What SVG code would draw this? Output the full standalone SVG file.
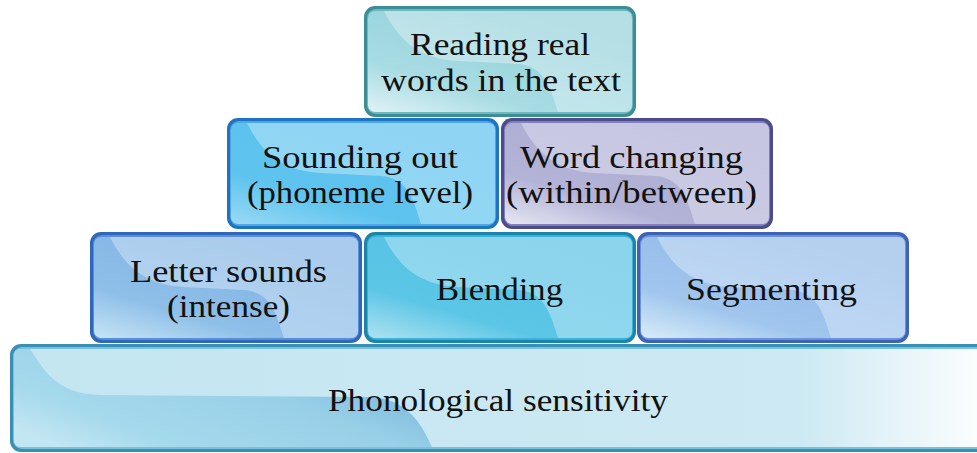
<svg xmlns="http://www.w3.org/2000/svg" xmlns:xlink="http://www.w3.org/1999/xlink" width="977" height="453" viewBox="0 0 977 453">
<defs>
<style>
.t{font-family:"Liberation Serif","Times New Roman",serif;font-size:32px;fill:#111;}
.gl{fill:#fff;fill-opacity:.32}
</style>
<linearGradient id="gTeal" x1="0" y1="1" x2="0.7" y2="0.1"><stop offset="0" stop-color="#e0f2f6"/><stop offset=".35" stop-color="#a8dce3"/><stop offset="1" stop-color="#92d0d9"/></linearGradient>
<linearGradient id="gSky" x1="0" y1="1" x2="0.7" y2="0.1"><stop offset="0" stop-color="#9ad9f4"/><stop offset=".35" stop-color="#5ec4ee"/><stop offset="1" stop-color="#5bc2ee"/></linearGradient>
<linearGradient id="gLav" x1="0" y1="1" x2="0.7" y2="0.1"><stop offset="0" stop-color="#e6e6f3"/><stop offset=".35" stop-color="#b3b3d7"/><stop offset="1" stop-color="#acacd3"/></linearGradient>
<linearGradient id="gMid" x1="0" y1="1" x2="0.7" y2="0.1"><stop offset="0" stop-color="#c6e4f5"/><stop offset=".35" stop-color="#8ebfe9"/><stop offset="1" stop-color="#82b3e3"/></linearGradient>
<linearGradient id="gCyan" x1="0" y1="1" x2="0.7" y2="0.1"><stop offset="0" stop-color="#ade2f1"/><stop offset=".35" stop-color="#5cc6e6"/><stop offset="1" stop-color="#55c0e4"/></linearGradient>
<linearGradient id="gPeri" x1="0" y1="1" x2="0.7" y2="0.1"><stop offset="0" stop-color="#d7ecf8"/><stop offset=".35" stop-color="#a0c6ee"/><stop offset="1" stop-color="#92bae8"/></linearGradient>
<linearGradient id="gBase" x1="0" y1="0" x2="1" y2="0"><stop offset="0" stop-color="#c3e6f1"/><stop offset=".8" stop-color="#cde9f3"/><stop offset="1" stop-color="#ffffff"/></linearGradient>
<linearGradient id="gLow" x1="0" y1="0.8" x2="1" y2="0.2"><stop offset="0" stop-color="#c2e6f2"/><stop offset=".2" stop-color="#a5d9ec"/><stop offset=".6" stop-color="#98d0e8"/><stop offset="1" stop-color="#6eadd3"/></linearGradient>
<path id="gloss" d="M16,0 C30,28 50,48 90,50 L150,53 C176,55 182,75 190,101 L257,101 Q264,101 264,95 L264,6 Q264,0 257,0 Z"/>
</defs>

<g id="node-reading">
<rect x="364" y="6" width="272" height="111" rx="11" fill="#3d8d96"/>
<rect x="367" y="9" width="266" height="105" rx="9" fill="#6fb8c0"/>
<rect x="368" y="11" width="264" height="101" rx="7" fill="url(#gTeal)"/>
<use xlink:href="#gloss" class="gl" transform="translate(368,11)"/>
<text class="t" x="410" y="55" textLength="180" lengthAdjust="spacingAndGlyphs">Reading real</text>
<text class="t" x="381" y="91" textLength="240" lengthAdjust="spacingAndGlyphs">words in the text</text>
</g>

<g id="node-sounding">
<rect x="227" y="118" width="272" height="111" rx="11" fill="#1d74c2"/>
<rect x="230" y="121" width="266" height="105" rx="9" fill="#4fa7e2"/>
<rect x="231" y="123" width="264" height="101" rx="7" fill="url(#gSky)"/>
<use xlink:href="#gloss" class="gl" transform="translate(231,123)"/>
<text class="t" x="262" y="168" textLength="196" lengthAdjust="spacingAndGlyphs">Sounding out</text>
<text class="t" x="247" y="203" textLength="226" lengthAdjust="spacingAndGlyphs">(phoneme level)</text>
</g>

<g id="node-word">
<rect x="501" y="118" width="272" height="111" rx="11" fill="#4c4c8c"/>
<rect x="504" y="121" width="266" height="105" rx="9" fill="#8080bb"/>
<rect x="505" y="123" width="264" height="101" rx="7" fill="url(#gLav)"/>
<use xlink:href="#gloss" class="gl" transform="translate(505,123)"/>
<text class="t" x="520" y="168" textLength="223" lengthAdjust="spacingAndGlyphs">Word changing</text>
<text class="t" x="506" y="203" textLength="251" lengthAdjust="spacingAndGlyphs">(within/between)</text>
</g>

<g id="node-letter">
<rect x="90" y="232" width="272" height="111" rx="11" fill="#2e67bb"/>
<rect x="93" y="235" width="266" height="105" rx="9" fill="#5a8fd6"/>
<rect x="94" y="237" width="264" height="101" rx="7" fill="url(#gMid)"/>
<use xlink:href="#gloss" class="gl" transform="translate(94,237)"/>
<text class="t" x="130" y="282" textLength="197" lengthAdjust="spacingAndGlyphs">Letter sounds</text>
<text class="t" x="167" y="317" textLength="123" lengthAdjust="spacingAndGlyphs">(intense)</text>
</g>

<g id="node-blending">
<rect x="364" y="232" width="272" height="111" rx="11" fill="#1985ab"/>
<rect x="367" y="235" width="266" height="105" rx="9" fill="#3fb0d6"/>
<rect x="368" y="237" width="264" height="101" rx="7" fill="url(#gCyan)"/>
<use xlink:href="#gloss" class="gl" transform="translate(368,237)"/>
<text class="t" x="436" y="300" textLength="127" lengthAdjust="spacingAndGlyphs">Blending</text>
</g>

<g id="node-segmenting">
<rect x="637" y="232" width="272" height="111" rx="11" fill="#3c63b6"/>
<rect x="640" y="235" width="266" height="105" rx="9" fill="#6e92d8"/>
<rect x="641" y="237" width="264" height="101" rx="7" fill="url(#gPeri)"/>
<use xlink:href="#gloss" class="gl" transform="translate(641,237)"/>
<text class="t" x="686" y="300" textLength="171" lengthAdjust="spacingAndGlyphs">Segmenting</text>
</g>

<g id="node-phonological">
<rect x="10" y="344" width="990" height="108" rx="11" fill="#3a90b2"/>
<rect x="13" y="347" width="984" height="102" rx="9" fill="#79c0dc"/>
<rect x="14" y="349" width="982" height="98" rx="7" fill="url(#gBase)"/>
<path fill="url(#gLow)" d="M30,349 C45,372 58,394 100,395 L370,397 C405,399 420,420 432,447 L21,447 Q14,447 14,440 L14,356 Q14,349 21,349 Z"/>
<text class="t" x="328" y="411" textLength="340" lengthAdjust="spacingAndGlyphs">Phonological sensitivity</text>
</g>
</svg>
